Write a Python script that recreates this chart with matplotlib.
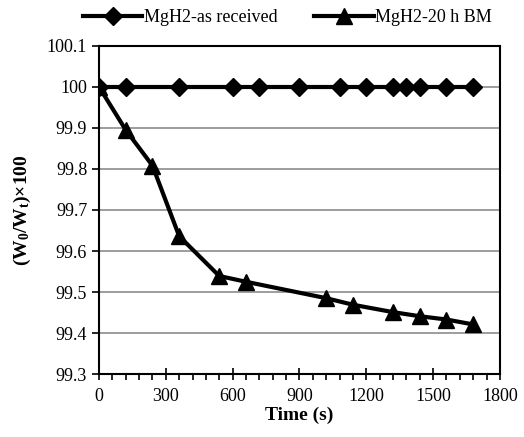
import numpy as np
import matplotlib.pyplot as plt
from matplotlib.ticker import MultipleLocator

plt.rcParams['font.family'] = 'Liberation Serif'
plt.rcParams['mathtext.fontset'] = 'custom'
plt.rcParams['mathtext.rm'] = 'Liberation Serif'
plt.rcParams['mathtext.bf'] = 'Liberation Serif:bold'
plt.rcParams['mathtext.it'] = 'Liberation Serif:italic'

# as received sample
t_recv = [0, 120, 360, 600, 720, 900, 1080, 1200, 1320, 1380, 1440, 1560, 1680]
w_recv = [100, 100, 100, 100, 100, 100, 100, 100, 100, 100, 100, 100, 100]

# 20 h ball milled sample
t_bm = [0, 120, 240, 360, 540, 660, 1020, 1140, 1320, 1440, 1560, 1680]
w_bm = [100, 99.895, 99.808, 99.636, 99.539, 99.525, 99.485, 99.469, 99.451, 99.441, 99.433, 99.421]

ytick_vals = [99.3, 99.4, 99.5, 99.6, 99.7, 99.8, 99.9, 100.0, 100.1]
ytick_text = ['99.3', '99.4', '99.5', '99.6', '99.7', '99.8', '99.9', '100', '100.1']

fig = plt.figure(figsize=(5.24, 4.37), dpi=100)
ax = fig.add_axes([0.189, 0.144, 0.765, 0.751])

ax.plot(t_recv, w_recv, color='black', lw=3.0, marker='D', ms=9, label='MgH2-as received', zorder=3)
ax.plot(t_bm, w_bm, color='black', lw=3.0, marker='^', ms=11, label='MgH2-20 h BM', zorder=4)

ax.set_xlim(0, 1800)
ax.set_ylim(99.3, 100.1)
ax.xaxis.set_major_locator(MultipleLocator(300))
ax.xaxis.set_minor_locator(MultipleLocator(60))
ax.set_yticks(ytick_vals)
ax.set_yticklabels(ytick_text)

ax.tick_params(axis='x', which='major', direction='inout', length=8, width=1.2, labelsize=13, pad=6)
ax.tick_params(axis='x', which='minor', direction='out', length=4, width=1.2)
ax.tick_params(axis='y', which='major', direction='out', length=5, width=1.2, labelsize=13)

ax.grid(axis='y', color='#8c8c8c', lw=1.2)
ax.set_axisbelow(True)
for s in ax.spines.values():
    s.set_linewidth(1.5)

ax.set_xlabel('Time (s)', fontsize=14, fontweight='bold', labelpad=1)
ax.set_ylabel('(W$_\\mathbf{0}$/W$_\\mathbf{t}$)×100', fontsize=14, fontweight='bold', labelpad=10)

ax.legend(loc='lower center', bbox_to_anchor=(0.47, 1.0), ncol=2, frameon=False,
          fontsize=13, handlelength=3.3, handletextpad=0.1, columnspacing=2.0,
          borderaxespad=0.7)

fig.savefig('out.png', dpi=100)
